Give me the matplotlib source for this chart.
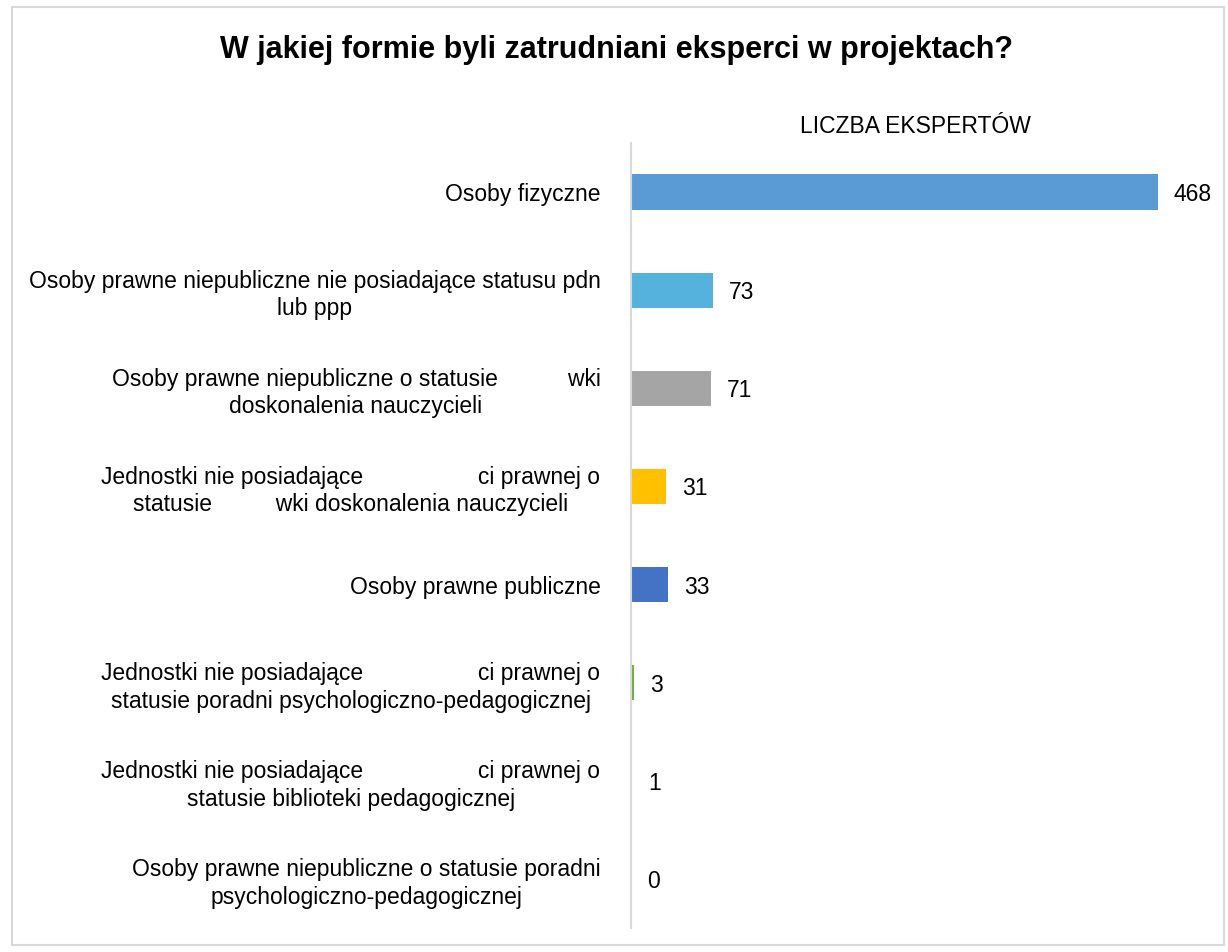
import matplotlib.pyplot as plt
from matplotlib import font_manager
from matplotlib.patches import Rectangle

names = {f.name for f in font_manager.fontManager.ttflist}
FONT = "Liberation Sans Narrow" if "Liberation Sans Narrow" in names else "Liberation Sans"
plt.rcParams["font.family"] = [FONT, "DejaVu Sans"]

categories = [
    "Osoby fizyczne",
    "Osoby prawne niepubliczne nie posiadające statusu pdn\nlub ppp",
    "Osoby prawne niepubliczne o statusie           wki\ndoskonalenia nauczycieli",
    "Jednostki nie posiadające                  ci prawnej o\nstatusie          wki doskonalenia nauczycieli",
    "Osoby prawne publiczne",
    "Jednostki nie posiadające                  ci prawnej o\nstatusie poradni psychologiczno-pedagogicznej",
    "Jednostki nie posiadające                  ci prawnej o\nstatusie biblioteki pedagogicznej",
    "Osoby prawne niepubliczne o statusie poradni\npsychologiczno-pedagogicznej",
]
values = [468, 73, 71, 31, 33, 3, 1, 0]
colors = ["#5B9BD5", "#55B2DC", "#A5A5A5", "#FFC000", "#4472C4",
          "#70AD47", "#44546A", "#9E480E"]

fig = plt.figure(figsize=(12.28, 9.52), dpi=100)
fig.patches.append(Rectangle((12 / 1228, 7 / 952), 1212 / 1228, 938 / 952,
                             transform=fig.transFigure, fill=False,
                             edgecolor="#D9D9D9", linewidth=1.5))

ax = fig.add_axes([631 / 1228, 1 - 928 / 952, 569 / 1228, 785 / 952])
pos = list(range(len(categories)))
ax.barh(pos, values, height=0.36, color=colors)
ax.set_ylim(len(categories) - 0.5, -0.5)
ax.set_xlim(0, 468 * 569 / 527)

for p, v in zip(pos, values):
    ax.text(v + 14, p, str(v), va="center_baseline", ha="left", fontsize=16.5)

ax.set_yticks(pos)
ax.set_yticklabels(categories, fontsize=16.5)
for t in ax.get_yticklabels():
    t.set_multialignment("center")
    t.set_linespacing(1.25)
ax.tick_params(axis="y", length=0, pad=22)
ax.set_xticks([])
for s in ["top", "right", "bottom"]:
    ax.spines[s].set_visible(False)
ax.spines["left"].set_color("#D9D9D9")
ax.spines["left"].set_linewidth(1.5)

ax.set_title("LICZBA EKSPERTÓW", fontsize=16.5, pad=7)
fig.text(616 / 1228, 1 - 50 / 952,
         "W jakiej formie byli zatrudniani eksperci w projektach?",
         ha="center", va="center", fontsize=22, fontweight="bold")

fig.savefig("out.png", dpi=100, facecolor="white")
